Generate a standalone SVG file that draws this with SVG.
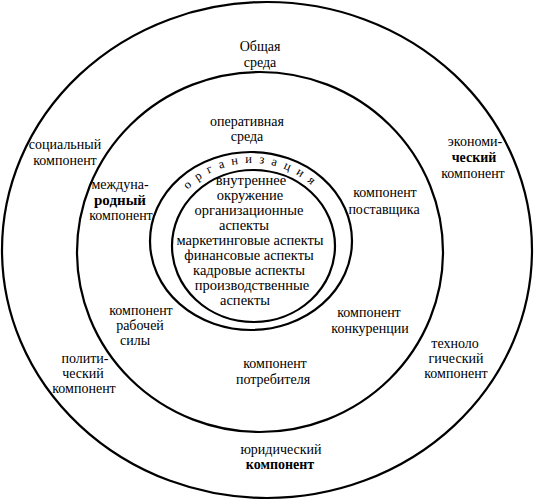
<svg xmlns="http://www.w3.org/2000/svg" width="535" height="501" viewBox="0 0 535 501">
<style>
.ring{fill:none;stroke:#000;stroke-width:2.2}
text{font-family:"Liberation Serif","DejaVu Serif","Times New Roman",serif;font-size:14px;fill:#000;text-anchor:middle}
.b{font-weight:bold}
.in{font-size:14.5px}
.org{font-size:12.5px;letter-spacing:7px}
</style>
<defs>
<path id="arc" d="M 164 248 A 88 85 0 0 1 340 248"/>
</defs>
<rect width="535" height="501" fill="#fff"/>
<g id="general-environment">
<ellipse class="ring" cx="267" cy="250" rx="265" ry="248"/>
<text x="260" y="51">Общая</text>
<text x="260" y="67">среда</text>
<text x="65" y="149">социальный</text>
<text x="65" y="165">компонент</text>
<text x="475" y="146">экономи-</text>
<text x="474" y="162" class="b">ческий</text>
<text x="473" y="178">компонент</text>
<text x="85" y="363">полити-</text>
<text x="83" y="378">ческий</text>
<text x="84" y="393">компонент</text>
<text x="455" y="348">техноло</text>
<text x="456" y="363">гический</text>
<text x="456" y="378">компонент</text>
<text x="281" y="454">юридический</text>
<text x="280" y="469" class="b">компонент</text>
</g>
<g id="operating-environment">
<ellipse class="ring" cx="260" cy="252" rx="183" ry="180"/>
<text x="247" y="126">оперативная</text>
<text x="247" y="141">среда</text>
<text x="120" y="189">междуна-</text>
<text x="120" y="205" class="b" style="font-size:15px">родный</text>
<text x="121" y="220">компонент</text>
<text x="385" y="197">компонент</text>
<text x="384" y="214">поставщика</text>
<text x="141" y="315">компонент</text>
<text x="140" y="330">рабочей</text>
<text x="135" y="345">силы</text>
<text x="369" y="317">компонент</text>
<text x="370" y="333">конкуренции</text>
<text x="275" y="368">компонент</text>
<text x="273" y="384">потребителя</text>
</g>
<g id="organization">
<ellipse class="ring" cx="251" cy="241" rx="101" ry="89"/>
<text class="org"><textPath href="#arc" startOffset="50%">организация</textPath></text>
</g>
<g id="internal-environment">
<ellipse class="ring" cx="253.5" cy="246" rx="81.5" ry="76"/>
<text class="in" x="251" y="185">внутреннее</text>
<text class="in" x="250" y="200">окружение</text>
<text class="in" x="249" y="215">организационные</text>
<text class="in" x="244" y="230">аспекты</text>
<text class="in" x="250" y="245">маркетинговые аспекты</text>
<text class="in" x="249" y="260">финансовые аспекты</text>
<text class="in" x="249" y="275">кадровые аспекты</text>
<text class="in" x="252" y="290">производственные</text>
<text class="in" x="245" y="305">аспекты</text>
</g>
</svg>
